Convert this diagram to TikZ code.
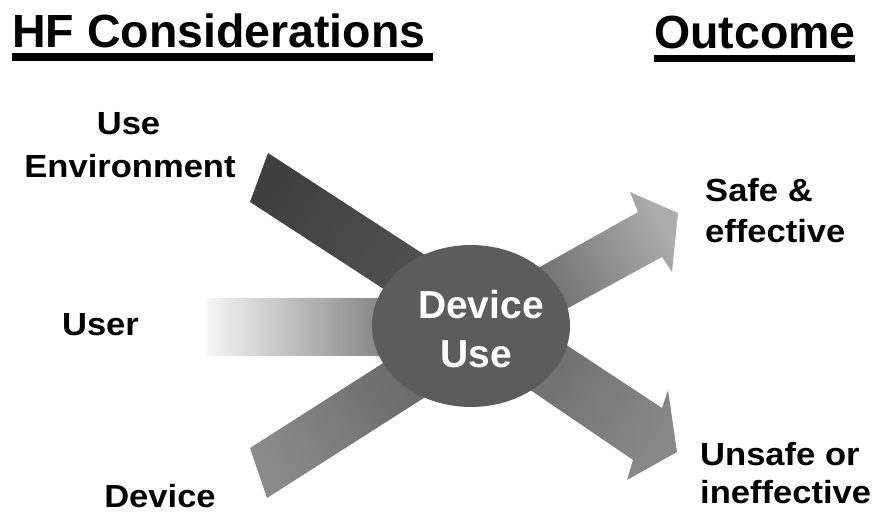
\documentclass[tikz,border=0pt]{standalone}
\usepackage{fontspec}
\setmainfont{Liberation Sans}
\newfontfamily\labfont[FakeStretch=1.08]{Liberation Sans}
\usetikzlibrary{shapes.geometric}
\definecolor{envA}{HTML}{404040}
\definecolor{envB}{HTML}{535353}
\definecolor{devA}{HTML}{8A8A8A}
\definecolor{devB}{HTML}{646464}
\definecolor{safeA}{HTML}{646464}
\definecolor{safeB}{HTML}{ACACAC}
\definecolor{unA}{HTML}{666666}
\definecolor{unB}{HTML}{888888}
\definecolor{userB}{HTML}{7A7A7A}
\definecolor{hub}{HTML}{5C5C5C}
\begin{document}
\begin{tikzpicture}[x=1pt,y=-1pt,
  lab/.style={font=\labfont\bfseries\fontsize{32}{38}\selectfont, inner sep=0pt, anchor=base},
  hd/.style={font=\bfseries\fontsize{46.5}{52}\selectfont, inner sep=0pt, anchor=base west},
  hubtext/.style={font=\bfseries\fontsize{39}{44}\selectfont, text=white, inner sep=0pt, anchor=base}]
\useasboundingbox (0,0) rectangle (878,513);
% headers
\node[hd] (hf) at (12,48) {HF Considerations};
\fill (12,53) rectangle (433,61);
\node[hd] (oc) at (654,49) {Outcome};
\fill (654,55) rectangle (855,62);
% input bars
\shade[bottom color=envA, top color=envB, shading angle=-125]
  (268,153) -- (461.7,279) -- (458.6,337.8) -- (250,202) -- cycle;
\shade[left color=white!96!black, right color=userB]
  (207,298) rectangle (400,355);
\shade[bottom color=devA, top color=devB, shading angle=-57]
  (250,448) -- (440.5,326.5) -- (457.5,376.5) -- (267,498) -- cycle;
% output arrows
\shade[bottom color=safeA, top color=safeB, shading angle=-60.7]
  (501.5,288.5) -- (638,212) -- (630,192) -- (678,213) -- (672,272) -- (662,257) -- (524,332) -- cycle;
\shade[bottom color=unA, top color=unB, shading angle=-124]
  (503.6,303.6) -- (662,408) -- (668,390) -- (677,452) -- (627,480) -- (633,460) -- (474.6,352) -- cycle;
% hub
\node[ellipse, fill=hub, minimum width=198pt, minimum height=162pt, inner sep=0pt] (du) at (471,326) {};
\node[hubtext] (dut1) at (481,318) {Device};
\node[hubtext] (dut2) at (476,367) {Use};
% labels
\node[lab] (ue1) at (128.5,135) {Use};
\node[lab] (ue2) at (130,178) {Environment};
\node[lab] (us) at (100.5,335) {User};
\node[lab] (dv) at (160,507) {Device};
\node[lab,anchor=base west] (sf1) at (705,202) {Safe \&};
\node[lab,anchor=base west] (sf2) at (705,242) {effective};
\node[lab,anchor=base west] (un1) at (700,465) {Unsafe or};
\node[lab,anchor=base west] (un2) at (700,503) {ineffective};
\end{tikzpicture}
\end{document}
